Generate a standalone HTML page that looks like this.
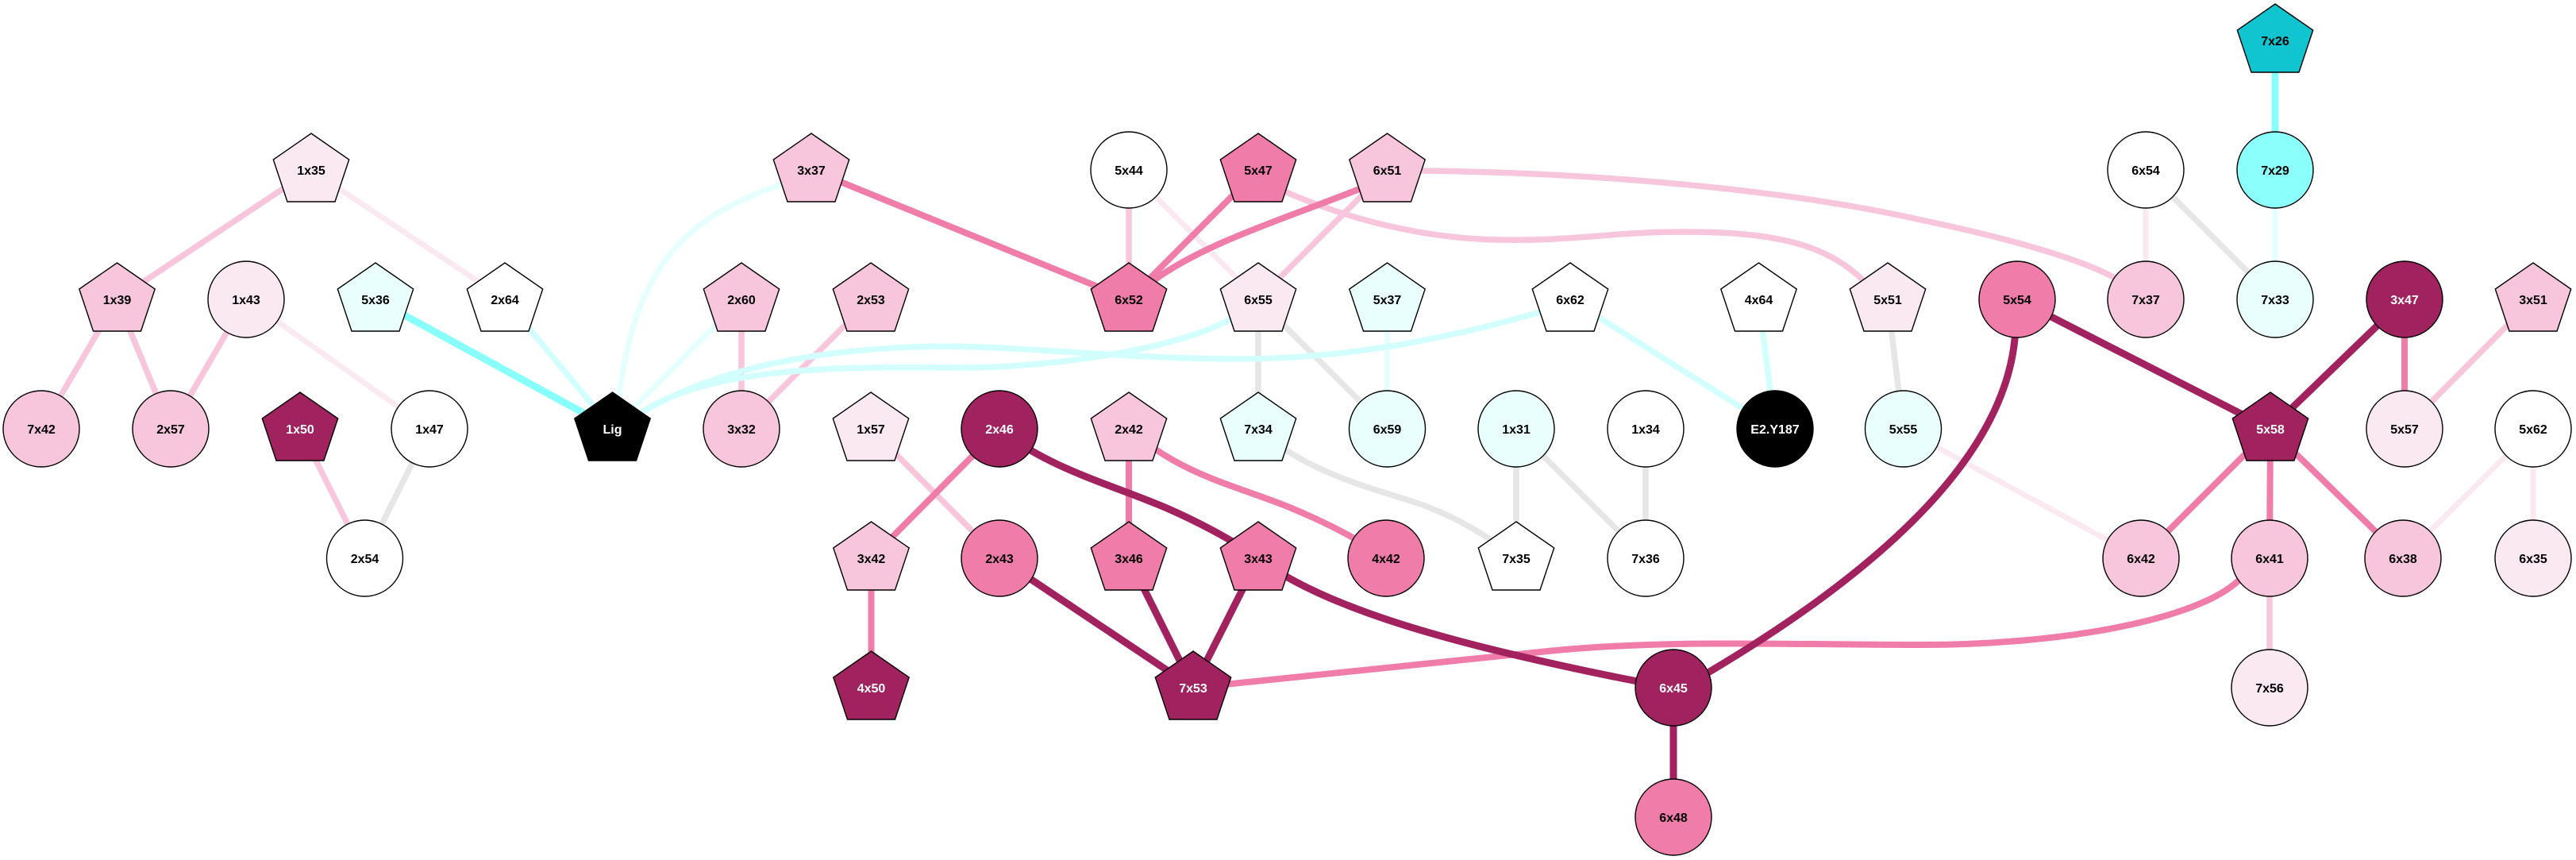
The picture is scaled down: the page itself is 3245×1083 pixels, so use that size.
<!DOCTYPE html>
<html>
<head>
<meta charset="utf-8">
<style>
  html,body{margin:0;padding:0;background:#fff;}
  svg{display:block;}
  text{font-family:"Liberation Sans",Arial,sans-serif;font-weight:bold;font-size:16px;text-anchor:middle;}
</style>
</head>
<body>
<svg width="3245" height="1083" viewBox="0 0 3245 1083" xmlns="http://www.w3.org/2000/svg">
<rect width="3245" height="1083" fill="#ffffff"/>

<!-- EDGES -->
<g fill="none" stroke-linecap="butt">
  <!-- pink -->
  <g stroke="#f8c6dc" stroke-width="7.5">
    <line x1="392" y1="214" x2="147.5" y2="377"/>
    <line x1="147.5" y1="377" x2="52" y2="540"/>
    <line x1="147.5" y1="377" x2="215" y2="540"/>
    <line x1="310" y1="377" x2="215" y2="540"/>
    <line x1="378" y1="540" x2="459.5" y2="703"/>
    <line x1="934" y1="377" x2="934" y2="540"/>
    <line x1="1097" y1="377" x2="934" y2="540"/>
    <line x1="1422" y1="214" x2="1422" y2="377"/>
    <line x1="1747.5" y1="214" x2="1585" y2="377"/>
    <line x1="3191" y1="377" x2="3029" y2="540"/>
    <line x1="2859" y1="703" x2="2859" y2="866"/>
    <line x1="1097" y1="540" x2="1259" y2="703"/>
    <path d="M1585,214 L1605,235 C1680,270 1780,300 1888,302 C1980,304 2030,292 2120,292 C2230,292 2300,305 2350,356 L2378,377"/>
    <path d="M1747.5,214 L1790,215 C2050,218 2280,245 2420,277 C2530,300 2640,330 2680,360 L2703,377"/>
  </g>
  <!-- pale pink -->
  <g stroke="#fbe9f2" stroke-width="7">
    <line x1="392" y1="214" x2="636" y2="377"/>
    <line x1="310" y1="377" x2="541" y2="540"/>
    <line x1="1422" y1="214" x2="1585" y2="377"/>
    <line x1="2703" y1="214" x2="2703" y2="377"/>
    <line x1="3191" y1="540" x2="3027" y2="703"/>
    <line x1="3191" y1="540" x2="3191" y2="703"/>
    <line x1="2397.5" y1="540" x2="2697" y2="703"/>
  </g>
  <!-- gray -->
  <g stroke="#e6e6e6" stroke-width="7.5">
    <line x1="541" y1="540" x2="459.5" y2="703"/>
    <line x1="1585" y1="377" x2="1585" y2="540"/>
    <line x1="1585" y1="377" x2="1747.5" y2="540"/>
    <line x1="2378" y1="377" x2="2397.5" y2="540"/>
    <line x1="2703" y1="214" x2="2866" y2="377"/>
    <line x1="1910" y1="540" x2="1910" y2="703"/>
    <line x1="1910" y1="540" x2="2073" y2="703"/>
    <line x1="2073" y1="540" x2="2073" y2="703"/>
    <path d="M1585,540 C1640,590 1710,610 1781,632 C1840,652 1880,680 1910,703"/>
  </g>
  <!-- pale cyan -->
  <g stroke="#e4fffe" stroke-width="7">
    <line x1="934" y1="377" x2="771.5" y2="540"/>
    <line x1="1747.5" y1="377" x2="1747.5" y2="540"/>
    <line x1="2866" y1="214" x2="2866" y2="377"/>
    <path d="M1022,214 L986,232 C870,270 800,330 780,500 L771.5,540"/>
  </g>
  <!-- light cyan -->
  <g stroke="#d2fffe" stroke-width="7.5">
    <line x1="636" y1="377" x2="771.5" y2="540"/>
    <line x1="1978" y1="377" x2="2236" y2="540"/>
    <line x1="2215.5" y1="377" x2="2236" y2="540"/>
    <path d="M1585,377 L1548,403 C1480,440 1330,462 1218,463 C1080,462 900,458 807,520 L771.5,540"/>
    <path d="M1978,377 L1940,393 C1830,425 1700,452 1560,452 C1400,452 1260,432 1150,437 C1020,442 900,465 807,520 L771.5,540"/>
  </g>
  <!-- cyan -->
  <g stroke="#88fffa" stroke-width="9">
    <line x1="473" y1="377" x2="771.5" y2="540"/>
    <line x1="2866" y1="51" x2="2866" y2="214"/>
  </g>
  <!-- medium pink -->
  <g stroke="#f07caa" stroke-width="8">
    <line x1="1022" y1="214" x2="1422" y2="377"/>
    <line x1="1585" y1="214" x2="1422" y2="377"/>
    <line x1="3029" y1="377" x2="3029" y2="540"/>
    <line x1="2860" y1="540" x2="2697" y2="703"/>
    <line x1="2860" y1="540" x2="2859" y2="703"/>
    <line x1="2860" y1="540" x2="3027" y2="703"/>
    <line x1="1259" y1="540" x2="1097.5" y2="703"/>
    <line x1="1422" y1="540" x2="1422" y2="703"/>
    <line x1="1097.5" y1="703" x2="1097.5" y2="866"/>
    <path d="M1747.5,214 L1715,237 C1620,275 1520,305 1455,352 L1422,377"/>
    <path d="M2859,703 L2821,730 C2770,780 2600,812 2420,812 C2250,812 2100,805 1950,820 L1503,866"/>
    <path d="M1422,540 C1490,600 1560,612 1627,640 C1680,662 1720,685 1746,703"/>
  </g>
  <!-- dark -->
  <g stroke="#a1225e" stroke-width="9">
    <line x1="2541" y1="377" x2="2860" y2="540"/>
    <line x1="3029" y1="377" x2="2860" y2="540"/>
    <line x1="1259" y1="703" x2="1503" y2="866"/>
    <line x1="1422" y1="703" x2="1503" y2="866"/>
    <line x1="1585" y1="703" x2="1503" y2="866"/>
    <line x1="2108" y1="866" x2="2108" y2="1029"/>
    <path d="M2541,377 L2538,427 C2525,560 2400,700 2150,848 L2108,866"/>
    <path d="M1259,540 C1320,590 1400,610 1470,640 C1520,662 1560,685 1585,703"/>
    <path d="M1585,703 C1660,760 1800,800 1922,828 C2000,846 2060,858 2108,866"/>
  </g>
</g>

<!-- NODES -->
<g stroke="#000" stroke-width="1.4">
  <!-- rank 0 -->
  <polygon transform="translate(2866,51)" points="0,-46 47.7,-13 30,40 -30,40 -47.7,-13" fill="#11c5d0"/>
  <!-- rank 1 -->
  <polygon transform="translate(392,214)" points="0,-46 47.7,-13 30,40 -30,40 -47.7,-13" fill="#fbe9f2"/>
  <polygon transform="translate(1022,214)" points="0,-46 47.7,-13 30,40 -30,40 -47.7,-13" fill="#f8c6dc"/>
  <circle cx="1422" cy="214" r="48" fill="#ffffff"/>
  <polygon transform="translate(1585,214)" points="0,-46 47.7,-13 30,40 -30,40 -47.7,-13" fill="#f07caa"/>
  <polygon transform="translate(1747.5,214)" points="0,-46 47.7,-13 30,40 -30,40 -47.7,-13" fill="#f8c6dc"/>
  <circle cx="2703" cy="214" r="48" fill="#ffffff"/>
  <circle cx="2866" cy="214" r="48" fill="#8afffb"/>
  <!-- rank 2 -->
  <polygon transform="translate(147.5,377)" points="0,-46 47.7,-13 30,40 -30,40 -47.7,-13" fill="#f8c6dc"/>
  <circle cx="310" cy="377" r="48" fill="#fbe9f2"/>
  <polygon transform="translate(473,377)" points="0,-46 47.7,-13 30,40 -30,40 -47.7,-13" fill="#e8fffe"/>
  <polygon transform="translate(636,377)" points="0,-46 47.7,-13 30,40 -30,40 -47.7,-13" fill="#ffffff"/>
  <polygon transform="translate(934,377)" points="0,-46 47.7,-13 30,40 -30,40 -47.7,-13" fill="#f8c6dc"/>
  <polygon transform="translate(1097,377)" points="0,-46 47.7,-13 30,40 -30,40 -47.7,-13" fill="#f8c6dc"/>
  <polygon transform="translate(1422,377)" points="0,-46 47.7,-13 30,40 -30,40 -47.7,-13" fill="#f07caa"/>
  <polygon transform="translate(1585,377)" points="0,-46 47.7,-13 30,40 -30,40 -47.7,-13" fill="#fbe9f2"/>
  <polygon transform="translate(1747.5,377)" points="0,-46 47.7,-13 30,40 -30,40 -47.7,-13" fill="#e8fffe"/>
  <polygon transform="translate(1978,377)" points="0,-46 47.7,-13 30,40 -30,40 -47.7,-13" fill="#ffffff"/>
  <polygon transform="translate(2215.5,377)" points="0,-46 47.7,-13 30,40 -30,40 -47.7,-13" fill="#ffffff"/>
  <polygon transform="translate(2378,377)" points="0,-46 47.7,-13 30,40 -30,40 -47.7,-13" fill="#fbe9f2"/>
  <circle cx="2541" cy="377" r="48" fill="#f07caa"/>
  <circle cx="2703" cy="377" r="48" fill="#f8c6dc"/>
  <circle cx="2866" cy="377" r="48" fill="#e8fffe"/>
  <circle cx="3029" cy="377" r="48" fill="#a0225e"/>
  <polygon transform="translate(3191,377)" points="0,-46 47.7,-13 30,40 -30,40 -47.7,-13" fill="#f8c6dc"/>
  <!-- rank 3 -->
  <circle cx="52" cy="540" r="48" fill="#f8c6dc"/>
  <circle cx="215" cy="540" r="48" fill="#f8c6dc"/>
  <polygon transform="translate(378,540)" points="0,-46 47.7,-13 30,40 -30,40 -47.7,-13" fill="#a0225e"/>
  <circle cx="541" cy="540" r="48" fill="#ffffff"/>
  <polygon transform="translate(771.5,540)" points="0,-46 47.7,-13 30,40 -30,40 -47.7,-13" fill="#000000"/>
  <circle cx="934" cy="540" r="48" fill="#f8c6dc"/>
  <polygon transform="translate(1097,540)" points="0,-46 47.7,-13 30,40 -30,40 -47.7,-13" fill="#fbe9f2"/>
  <circle cx="1259" cy="540" r="48" fill="#a0225e"/>
  <polygon transform="translate(1422,540)" points="0,-46 47.7,-13 30,40 -30,40 -47.7,-13" fill="#f8c6dc"/>
  <polygon transform="translate(1585,540)" points="0,-46 47.7,-13 30,40 -30,40 -47.7,-13" fill="#e8fffe"/>
  <circle cx="1747.5" cy="540" r="48" fill="#e8fffe"/>
  <circle cx="1910" cy="540" r="48" fill="#e8fffe"/>
  <circle cx="2073" cy="540" r="48" fill="#ffffff"/>
  <circle cx="2236" cy="540" r="48" fill="#000000"/>
  <circle cx="2397.5" cy="540" r="48" fill="#e8fffe"/>
  <polygon transform="translate(2860,540)" points="0,-46 47.7,-13 30,40 -30,40 -47.7,-13" fill="#a0225e"/>
  <circle cx="3029" cy="540" r="48" fill="#fbe9f2"/>
  <circle cx="3191" cy="540" r="48" fill="#ffffff"/>
  <!-- rank 4 -->
  <circle cx="459.5" cy="703" r="48" fill="#ffffff"/>
  <polygon transform="translate(1097.5,703)" points="0,-46 47.7,-13 30,40 -30,40 -47.7,-13" fill="#f8c6dc"/>
  <circle cx="1259" cy="703" r="48" fill="#f07caa"/>
  <polygon transform="translate(1422,703)" points="0,-46 47.7,-13 30,40 -30,40 -47.7,-13" fill="#f07caa"/>
  <polygon transform="translate(1585,703)" points="0,-46 47.7,-13 30,40 -30,40 -47.7,-13" fill="#f07caa"/>
  <circle cx="1746" cy="703" r="48" fill="#f07caa"/>
  <polygon transform="translate(1910,703)" points="0,-46 47.7,-13 30,40 -30,40 -47.7,-13" fill="#ffffff"/>
  <circle cx="2073" cy="703" r="48" fill="#ffffff"/>
  <circle cx="2697" cy="703" r="48" fill="#f8c6dc"/>
  <circle cx="2859" cy="703" r="48" fill="#f8c6dc"/>
  <circle cx="3027" cy="703" r="48" fill="#f8c6dc"/>
  <circle cx="3191" cy="703" r="48" fill="#fbe9f2"/>
  <!-- rank 5 -->
  <polygon transform="translate(1097.5,866)" points="0,-46 47.7,-13 30,40 -30,40 -47.7,-13" fill="#a0225e"/>
  <polygon transform="translate(1503,866)" points="0,-46 47.7,-13 30,40 -30,40 -47.7,-13" fill="#a0225e"/>
  <circle cx="2108" cy="866" r="48" fill="#a0225e"/>
  <circle cx="2859" cy="866" r="48" fill="#fbe9f2"/>
  <!-- rank 6 -->
  <circle cx="2108" cy="1029" r="48" fill="#f07caa"/>
</g>

<!-- LABELS -->
<g fill="#000">
  <text x="2866" y="57">7x26</text>
  <text x="392" y="220">1x35</text>
  <text x="1022" y="220">3x37</text>
  <text x="1422" y="220">5x44</text>
  <text x="1585" y="220">5x47</text>
  <text x="1747.5" y="220">6x51</text>
  <text x="2703" y="220">6x54</text>
  <text x="2866" y="220">7x29</text>

  <text x="147.5" y="383">1x39</text>
  <text x="310" y="383">1x43</text>
  <text x="473" y="383">5x36</text>
  <text x="636" y="383">2x64</text>
  <text x="934" y="383">2x60</text>
  <text x="1097" y="383">2x53</text>
  <text x="1422" y="383">6x52</text>
  <text x="1585" y="383">6x55</text>
  <text x="1747.5" y="383">5x37</text>
  <text x="1978" y="383">6x62</text>
  <text x="2215.5" y="383">4x64</text>
  <text x="2378" y="383">5x51</text>
  <text x="2541" y="383">5x54</text>
  <text x="2703" y="383">7x37</text>
  <text x="2866" y="383">7x33</text>
  <text x="3191" y="383">3x51</text>

  <text x="52" y="546">7x42</text>
  <text x="215" y="546">2x57</text>
  <text x="541" y="546">1x47</text>
  <text x="934" y="546">3x32</text>
  <text x="1097" y="546">1x57</text>
  <text x="1422" y="546">2x42</text>
  <text x="1585" y="546">7x34</text>
  <text x="1747.5" y="546">6x59</text>
  <text x="1910" y="546">1x31</text>
  <text x="2073" y="546">1x34</text>
  <text x="2397.5" y="546">5x55</text>
  <text x="3029" y="546">5x57</text>
  <text x="3191" y="546">5x62</text>

  <text x="459.5" y="709">2x54</text>
  <text x="1097.5" y="709">3x42</text>
  <text x="1259" y="709">2x43</text>
  <text x="1422" y="709">3x46</text>
  <text x="1585" y="709">3x43</text>
  <text x="1746" y="709">4x42</text>
  <text x="1910" y="709">7x35</text>
  <text x="2073" y="709">7x36</text>
  <text x="2697" y="709">6x42</text>
  <text x="2859" y="709">6x41</text>
  <text x="3027" y="709">6x38</text>
  <text x="3191" y="709">6x35</text>

  <text x="2859" y="872">7x56</text>
  <text x="2108" y="1035">6x48</text>
</g>
<g fill="#fff">
  <text x="3029" y="383">3x47</text>
  <text x="378" y="546">1x50</text>
  <text x="771.5" y="546">Lig</text>
  <text x="1259" y="546">2x46</text>
  <text x="2236" y="546">E2.Y187</text>
  <text x="2860" y="546">5x58</text>
  <text x="1097.5" y="872">4x50</text>
  <text x="1503" y="872">7x53</text>
  <text x="2108" y="872">6x45</text>
</g>
</svg>
</body>
</html>
